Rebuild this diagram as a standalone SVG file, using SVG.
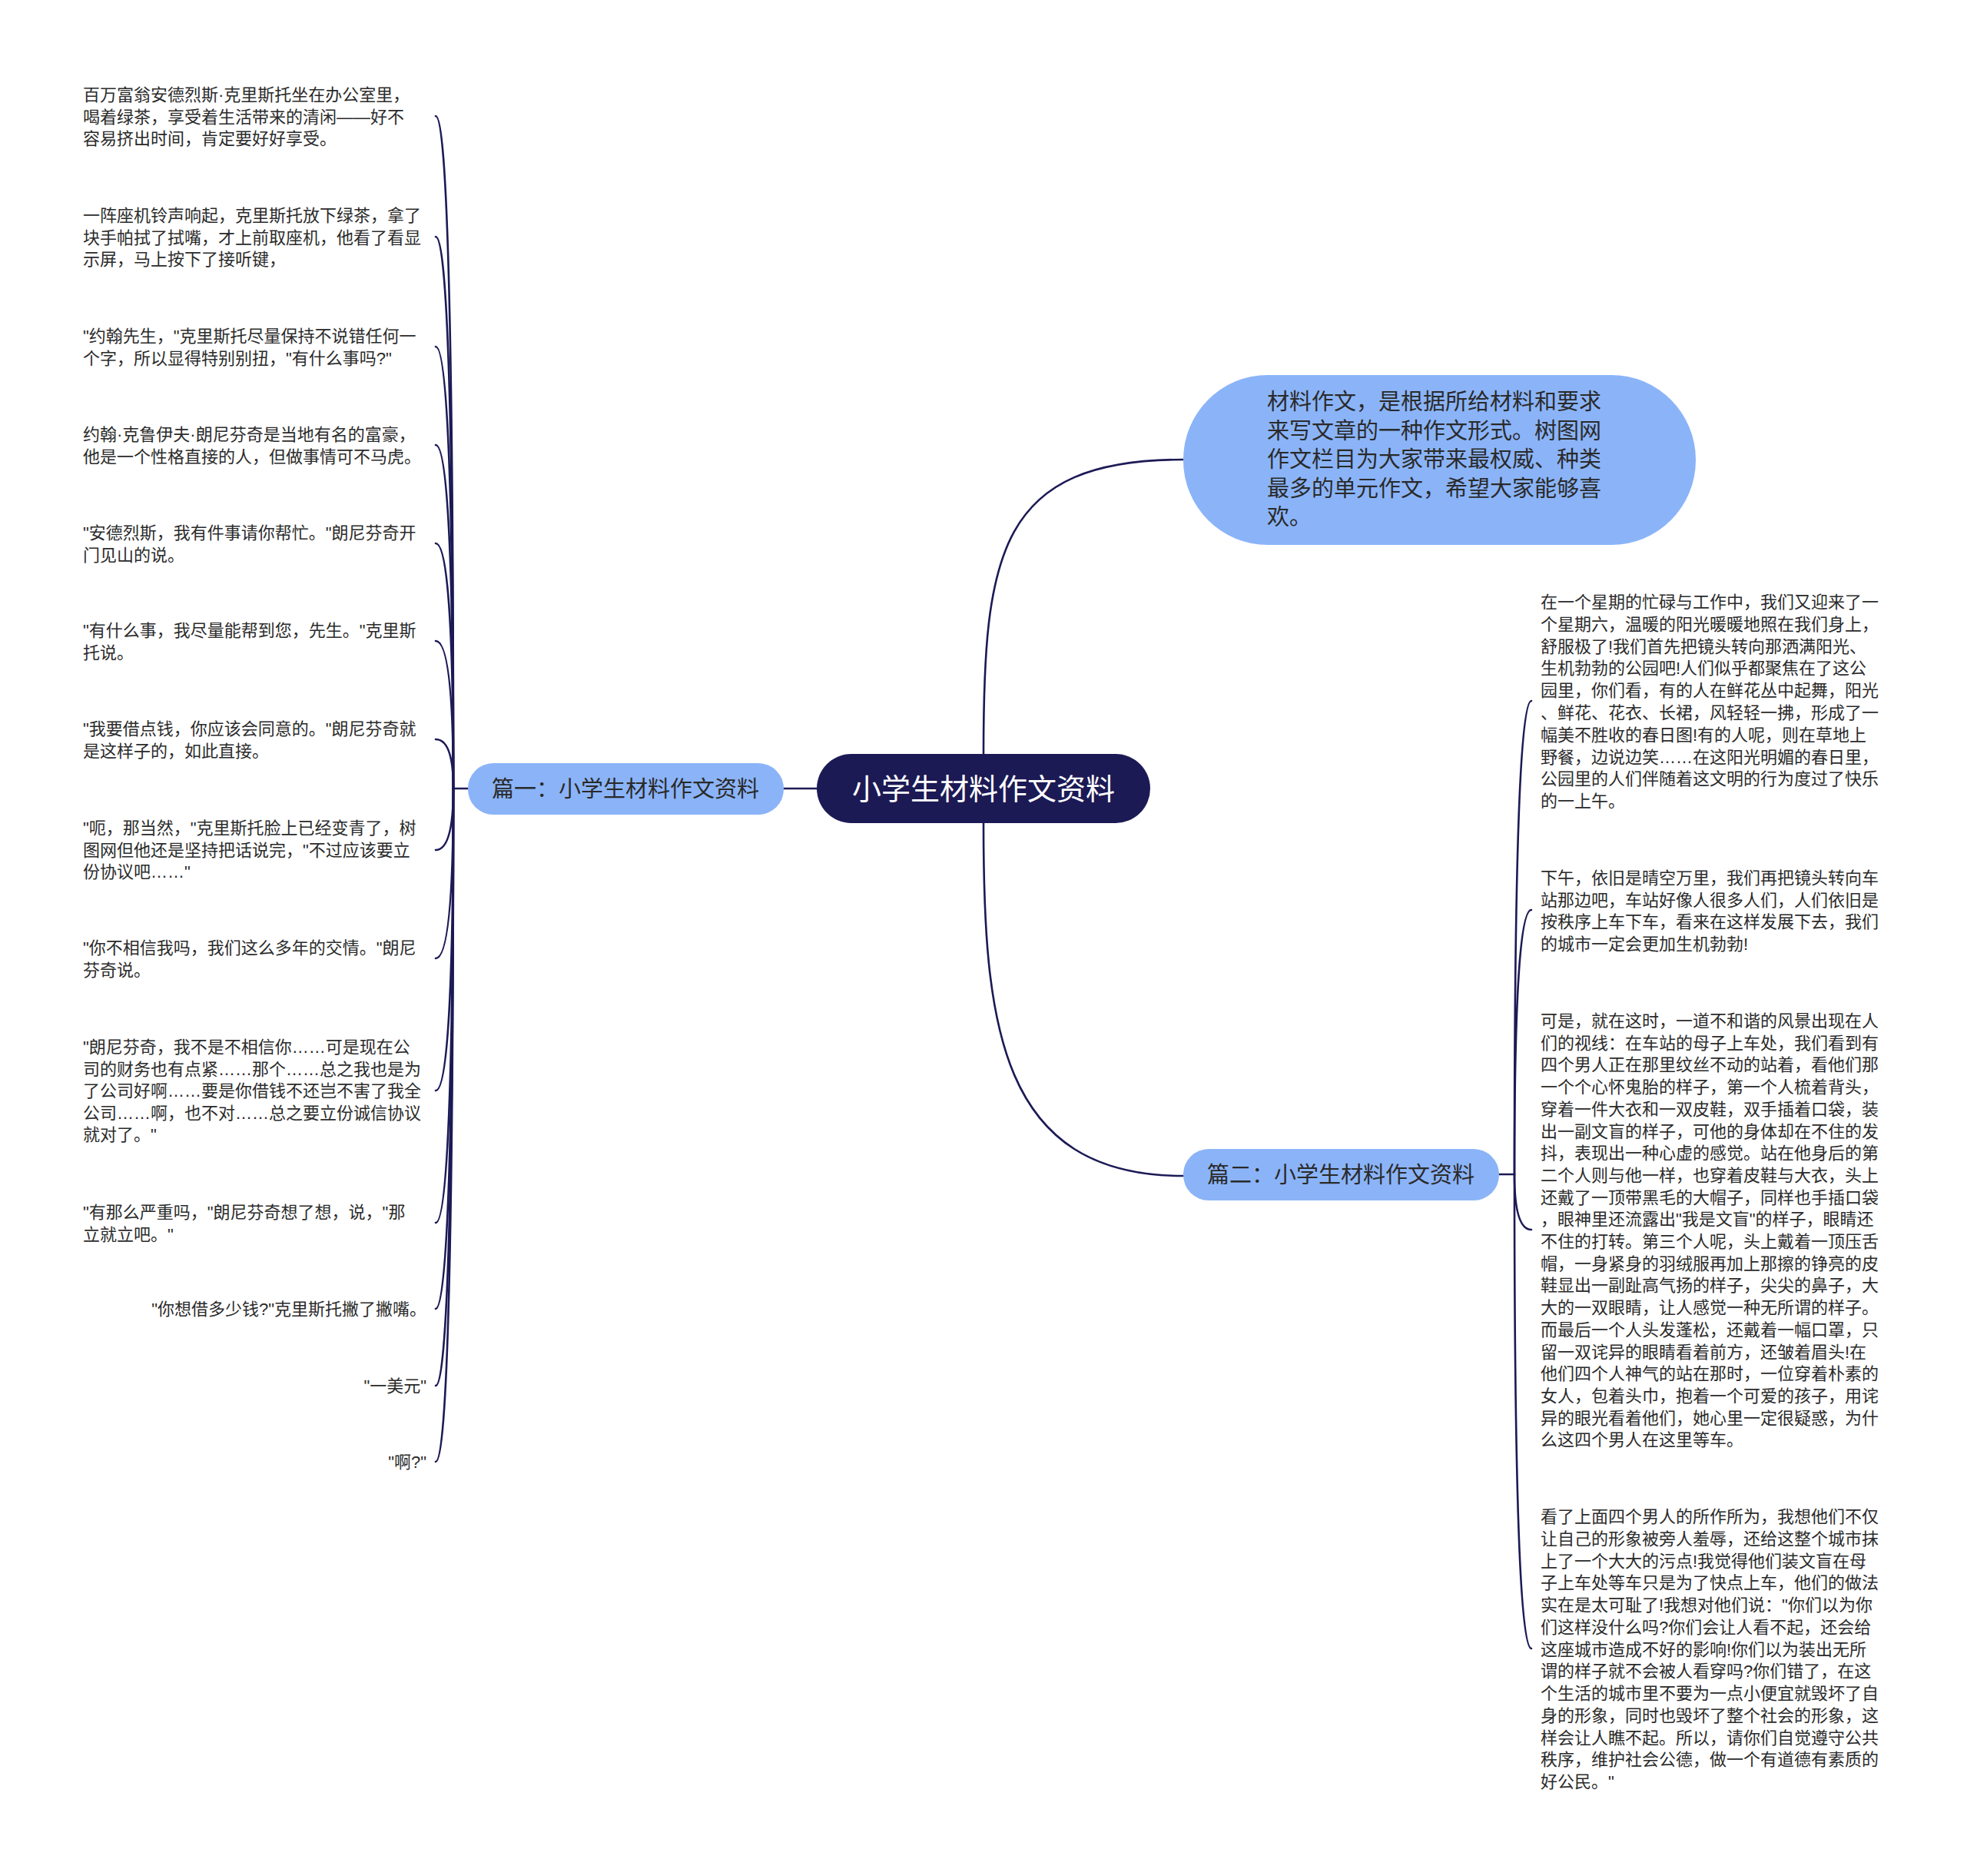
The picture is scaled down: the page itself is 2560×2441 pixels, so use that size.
<svg xmlns="http://www.w3.org/2000/svg" width="2560" height="2441" viewBox="0 0 2560 2441">
<style>
.bg{fill:#ffffff}
.ln{fill:none;stroke:#1c1a55;stroke-width:2.6;stroke-linecap:round}
.t{font-family:"Liberation Sans","Noto Sans CJK SC",sans-serif;fill:#2b2b2b}
.leaf{font-size:22px}
.sub{fill:#8bb4f8}
.subt{font-size:29px;fill:#2a2a2a}
.root{fill:#1c1a55}
.roott{font-size:38px;fill:#ffffff}
</style>
<rect class="bg" x="0" y="0" width="2560" height="2441"/>
<g id="connectors">
  <path class="ln" d="M1280 981 C1280 720 1300 598 1540 598"/>
  <path class="ln" d="M1280 1071 C1280 1332 1300 1530 1540 1530"/>
  <path class="ln" d="M1063 1026 L1020 1026"/>
  <path class="ln" d="M609 1026 L590 1026"/>
  <path class="ln" d="M590 1026 Q590 151 567 151"/>
  <path class="ln" d="M590 1026 Q590 308 567 308"/>
  <path class="ln" d="M590 1026 Q590 451 567 451"/>
  <path class="ln" d="M590 1026 Q590 579 567 579"/>
  <path class="ln" d="M590 1026 Q590 707 567 707"/>
  <path class="ln" d="M590 1026 Q590 834 567 834"/>
  <path class="ln" d="M590 1026 Q590 962 567 962"/>
  <path class="ln" d="M590 1026 Q590 1106 567 1106"/>
  <path class="ln" d="M590 1026 Q590 1247 567 1247"/>
  <path class="ln" d="M590 1026 Q590 1419 567 1419"/>
  <path class="ln" d="M590 1026 Q590 1591 567 1591"/>
  <path class="ln" d="M590 1026 Q590 1703 567 1703"/>
  <path class="ln" d="M590 1026 Q590 1803 567 1803"/>
  <path class="ln" d="M590 1026 Q590 1902 567 1902"/>
  <path class="ln" d="M1951 1528 L1971 1528"/>
  <path class="ln" d="M1971 1528 Q1971 912 1993 912"/>
  <path class="ln" d="M1971 1528 Q1971 1184 1993 1184"/>
  <path class="ln" d="M1971 1528 Q1971 1600 1993 1600"/>
  <path class="ln" d="M1971 1528 Q1971 2145 1993 2145"/>
</g>
<g id="root">
  <rect class="root" x="1063" y="981" width="434" height="90" rx="45"/>
  <text class="t roott" x="1280" y="1040" text-anchor="middle">小学生材料作文资料</text>
</g>
<g id="intro">
  <rect class="sub" x="1540" y="488" width="667" height="221" rx="110"/>
  <text class="t subt" x="1649" y="533">
    <tspan x="1649">材料作文，是根据所给材料和要求</tspan>
    <tspan x="1649" dy="37.6">来写文章的一种作文形式。树图网</tspan>
    <tspan x="1649" dy="37.6">作文栏目为大家带来最权威、种类</tspan>
    <tspan x="1649" dy="37.6">最多的单元作文，希望大家能够喜</tspan>
    <tspan x="1649" dy="37.6">欢。</tspan>
  </text>
</g>
<g id="part1">
  <rect class="sub" x="609" y="993" width="411" height="67" rx="33"/>
  <text class="t subt" x="814" y="1037" text-anchor="middle">篇一：小学生材料作文资料</text>
</g>
<g id="part2">
  <rect class="sub" x="1540" y="1495" width="411" height="67" rx="33"/>
  <text class="t subt" x="1745" y="1539" text-anchor="middle">篇二：小学生材料作文资料</text>
</g>
<g id="leaf-l1"><text class="t leaf" x="108" y="131"><tspan x="108">百万富翁安德烈斯·克里斯托坐在办公室里，</tspan><tspan x="108" dy="28.6">喝着绿茶，享受着生活带来的清闲——好不</tspan><tspan x="108" dy="28.6">容易挤出时间，肯定要好好享受。</tspan></text></g>
<g id="leaf-l2"><text class="t leaf" x="108" y="288"><tspan x="108">一阵座机铃声响起，克里斯托放下绿茶，拿了</tspan><tspan x="108" dy="28.6">块手帕拭了拭嘴，才上前取座机，他看了看显</tspan><tspan x="108" dy="28.6">示屏，马上按下了接听键，</tspan></text></g>
<g id="leaf-l3"><text class="t leaf" x="108" y="445"><tspan x="108">"约翰先生，"克里斯托尽量保持不说错任何一</tspan><tspan x="108" dy="28.6">个字，所以显得特别别扭，"有什么事吗?"</tspan></text></g>
<g id="leaf-l4"><text class="t leaf" x="108" y="573"><tspan x="108">约翰·克鲁伊夫·朗尼芬奇是当地有名的富豪，</tspan><tspan x="108" dy="28.6">他是一个性格直接的人，但做事情可不马虎。</tspan></text></g>
<g id="leaf-l5"><text class="t leaf" x="108" y="701"><tspan x="108">"安德烈斯，我有件事请你帮忙。"朗尼芬奇开</tspan><tspan x="108" dy="28.6">门见山的说。</tspan></text></g>
<g id="leaf-l6"><text class="t leaf" x="108" y="828"><tspan x="108">"有什么事，我尽量能帮到您，先生。"克里斯</tspan><tspan x="108" dy="28.6">托说。</tspan></text></g>
<g id="leaf-l7"><text class="t leaf" x="108" y="956"><tspan x="108">"我要借点钱，你应该会同意的。"朗尼芬奇就</tspan><tspan x="108" dy="28.6">是这样子的，如此直接。</tspan></text></g>
<g id="leaf-l8"><text class="t leaf" x="108" y="1085"><tspan x="108">"呃，那当然，"克里斯托脸上已经变青了，树</tspan><tspan x="108" dy="28.6">图网但他还是坚持把话说完，"不过应该要立</tspan><tspan x="108" dy="28.6">份协议吧……"</tspan></text></g>
<g id="leaf-l9"><text class="t leaf" x="108" y="1241"><tspan x="108">"你不相信我吗，我们这么多年的交情。"朗尼</tspan><tspan x="108" dy="28.6">芬奇说。</tspan></text></g>
<g id="leaf-l10"><text class="t leaf" x="108" y="1370"><tspan x="108">"朗尼芬奇，我不是不相信你……可是现在公</tspan><tspan x="108" dy="28.6">司的财务也有点紧……那个……总之我也是为</tspan><tspan x="108" dy="28.6">了公司好啊……要是你借钱不还岂不害了我全</tspan><tspan x="108" dy="28.6">公司……啊，也不对……总之要立份诚信协议</tspan><tspan x="108" dy="28.6">就对了。"</tspan></text></g>
<g id="leaf-l11"><text class="t leaf" x="108" y="1585"><tspan x="108">"有那么严重吗，"朗尼芬奇想了想，说，"那</tspan><tspan x="108" dy="28.6">立就立吧。"</tspan></text></g>
<g id="leaf-l12"><text class="t leaf" x="555" y="1711" text-anchor="end">"你想借多少钱?"克里斯托撇了撇嘴。</text></g>
<g id="leaf-l13"><text class="t leaf" x="555" y="1811" text-anchor="end">"一美元"</text></g>
<g id="leaf-l14"><text class="t leaf" x="555" y="1910" text-anchor="end">"啊?"</text></g>
<g id="leaf-r1"><text class="t leaf" x="2005" y="791"><tspan x="2005">在一个星期的忙碌与工作中，我们又迎来了一</tspan><tspan x="2005" dy="28.8">个星期六，温暖的阳光暖暖地照在我们身上，</tspan><tspan x="2005" dy="28.8">舒服极了!我们首先把镜头转向那洒满阳光、</tspan><tspan x="2005" dy="28.8">生机勃勃的公园吧!人们似乎都聚焦在了这公</tspan><tspan x="2005" dy="28.8">园里，你们看，有的人在鲜花丛中起舞，阳光</tspan><tspan x="2005" dy="28.8">、鲜花、花衣、长裙，风轻轻一拂，形成了一</tspan><tspan x="2005" dy="28.8">幅美不胜收的春日图!有的人呢，则在草地上</tspan><tspan x="2005" dy="28.8">野餐，边说边笑……在这阳光明媚的春日里，</tspan><tspan x="2005" dy="28.8">公园里的人们伴随着这文明的行为度过了快乐</tspan><tspan x="2005" dy="28.8">的一上午。</tspan></text></g>
<g id="leaf-r2"><text class="t leaf" x="2005" y="1150"><tspan x="2005">下午，依旧是晴空万里，我们再把镜头转向车</tspan><tspan x="2005" dy="28.6">站那边吧，车站好像人很多人们，人们依旧是</tspan><tspan x="2005" dy="28.6">按秩序上车下车，看来在这样发展下去，我们</tspan><tspan x="2005" dy="28.6">的城市一定会更加生机勃勃!</tspan></text></g>
<g id="leaf-r3"><text class="t leaf" x="2005" y="1336"><tspan x="2005">可是，就在这时，一道不和谐的风景出现在人</tspan><tspan x="2005" dy="28.7">们的视线：在车站的母子上车处，我们看到有</tspan><tspan x="2005" dy="28.7">四个男人正在那里纹丝不动的站着，看他们那</tspan><tspan x="2005" dy="28.7">一个个心怀鬼胎的样子，第一个人梳着背头，</tspan><tspan x="2005" dy="28.7">穿着一件大衣和一双皮鞋，双手插着口袋，装</tspan><tspan x="2005" dy="28.7">出一副文盲的样子，可他的身体却在不住的发</tspan><tspan x="2005" dy="28.7">抖，表现出一种心虚的感觉。站在他身后的第</tspan><tspan x="2005" dy="28.7">二个人则与他一样，也穿着皮鞋与大衣，头上</tspan><tspan x="2005" dy="28.7">还戴了一顶带黑毛的大帽子，同样也手插口袋</tspan><tspan x="2005" dy="28.7">，眼神里还流露出"我是文盲"的样子，眼睛还</tspan><tspan x="2005" dy="28.7">不住的打转。第三个人呢，头上戴着一顶压舌</tspan><tspan x="2005" dy="28.7">帽，一身紧身的羽绒服再加上那擦的铮亮的皮</tspan><tspan x="2005" dy="28.7">鞋显出一副趾高气扬的样子，尖尖的鼻子，大</tspan><tspan x="2005" dy="28.7">大的一双眼睛，让人感觉一种无所谓的样子。</tspan><tspan x="2005" dy="28.7">而最后一个人头发蓬松，还戴着一幅口罩，只</tspan><tspan x="2005" dy="28.7">留一双诧异的眼睛看着前方，还皱着眉头!在</tspan><tspan x="2005" dy="28.7">他们四个人神气的站在那时，一位穿着朴素的</tspan><tspan x="2005" dy="28.7">女人，包着头巾，抱着一个可爱的孩子，用诧</tspan><tspan x="2005" dy="28.7">异的眼光看着他们，她心里一定很疑惑，为什</tspan><tspan x="2005" dy="28.7">么这四个男人在这里等车。</tspan></text></g>
<g id="leaf-r4"><text class="t leaf" x="2005" y="1981"><tspan x="2005">看了上面四个男人的所作所为，我想他们不仅</tspan><tspan x="2005" dy="28.75">让自己的形象被旁人羞辱，还给这整个城市抹</tspan><tspan x="2005" dy="28.75">上了一个大大的污点!我觉得他们装文盲在母</tspan><tspan x="2005" dy="28.75">子上车处等车只是为了快点上车，他们的做法</tspan><tspan x="2005" dy="28.75">实在是太可耻了!我想对他们说："你们以为你</tspan><tspan x="2005" dy="28.75">们这样没什么吗?你们会让人看不起，还会给</tspan><tspan x="2005" dy="28.75">这座城市造成不好的影响!你们以为装出无所</tspan><tspan x="2005" dy="28.75">谓的样子就不会被人看穿吗?你们错了，在这</tspan><tspan x="2005" dy="28.75">个生活的城市里不要为一点小便宜就毁坏了自</tspan><tspan x="2005" dy="28.75">身的形象，同时也毁坏了整个社会的形象，这</tspan><tspan x="2005" dy="28.75">样会让人瞧不起。所以，请你们自觉遵守公共</tspan><tspan x="2005" dy="28.75">秩序，维护社会公德，做一个有道德有素质的</tspan><tspan x="2005" dy="28.75">好公民。"</tspan></text></g>
</svg>
